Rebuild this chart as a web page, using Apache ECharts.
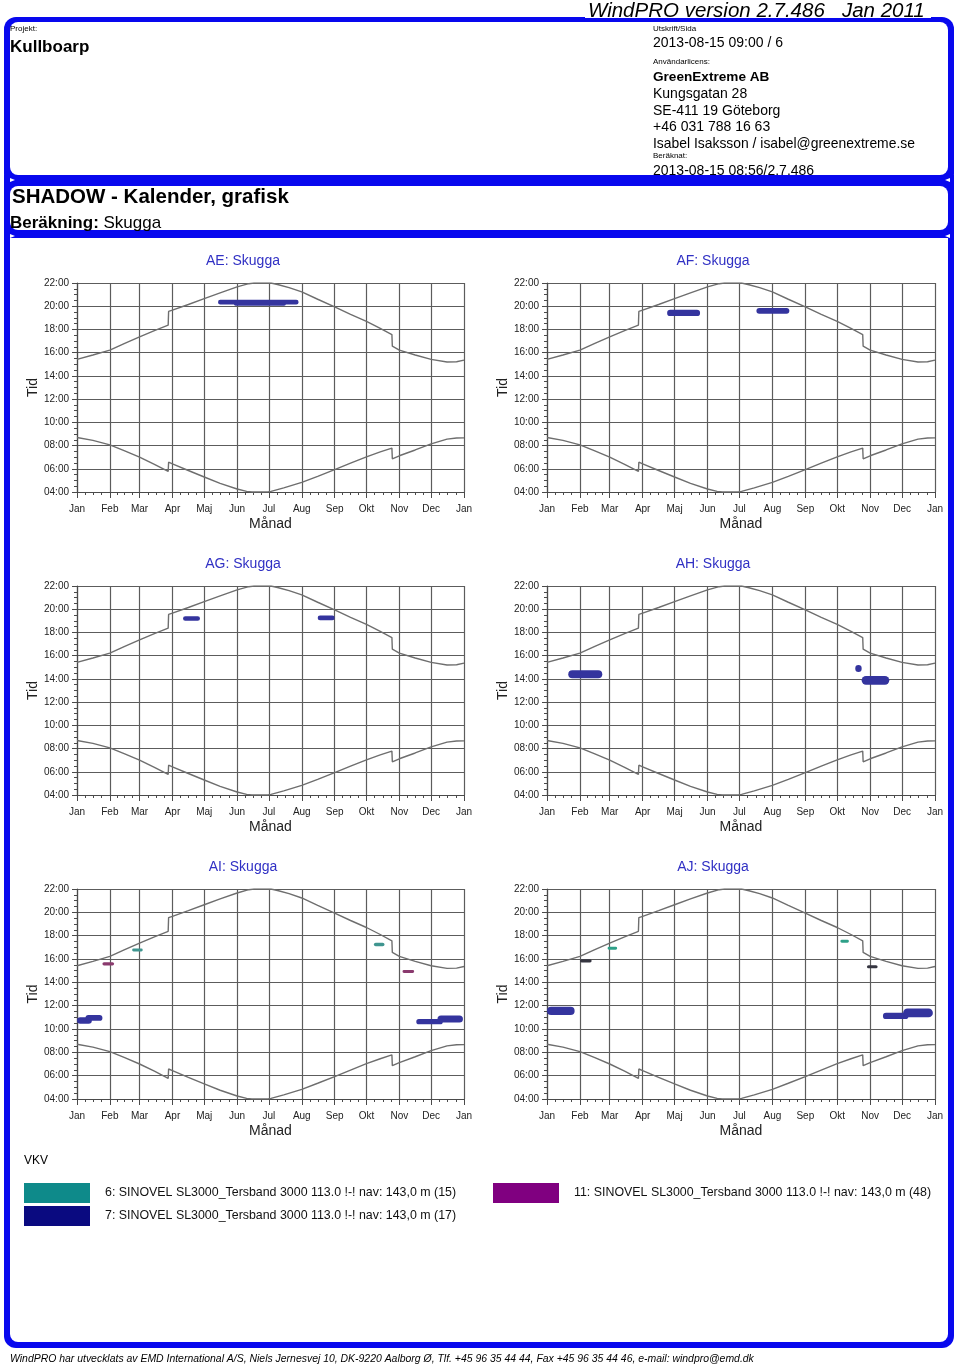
<!DOCTYPE html>
<html>
<head>
<meta charset="utf-8">
<script src="https://cdn.jsdelivr.net/npm/echarts@6/dist/echarts.min.js"></script>
<style>
html,body{margin:0;padding:0;background:#fff;}
#chart{width:960px;height:1366px;}
</style>
</head>
<body>
<div id="chart"></div>
<script>
// ---------- data ----------
const monthLabels = ['Jan','Feb','Mar','Apr','Maj','Jun','Jul','Aug','Sep','Okt','Nov','Dec','Jan'];
const monthStartDays = [0,31,59,90,120,151,181,212,243,273,304,334,365];
const hourMin = 4, hourMax = 22, hourStep = 2;

const panelTitles = ['AE: Skugga','AF: Skugga','AG: Skugga','AH: Skugga','AI: Skugga','AJ: Skugga'];

// sunset (upper curve) [dayOfYear, hour]
const sunsetCurve = [
  [0,15.42],[15,15.8],[31,16.22],[45,16.8],[59,17.36],[73,17.9],[86,18.37],[86.4,19.55],
  [90,19.66],[105,20.15],[120,20.65],[135,21.15],[151,21.66],[162,21.94],[167,22.0],
  [183,22.0],[190,21.85],[200,21.6],[212,21.23],[227,20.6],[243,19.94],[258,19.3],
  [273,18.7],[286,18.1],[297,17.56],[297.4,16.56],[304,16.22],[319,15.8],[334,15.42],
  [349,15.2],[358,15.22],[365,15.36]
];
// sunrise (lower curve) [dayOfYear, hour]
const sunriseCurve = [
  [0,8.69],[15,8.45],[31,8.06],[45,7.55],[59,7.0],[73,6.38],[86,5.77],[86.4,6.57],
  [90,6.43],[105,5.85],[120,5.29],[135,4.75],[151,4.26],[160,4.05],[165,4.0],
  [180,4.0],[183,4.05],[195,4.35],[212,4.83],[227,5.35],[243,5.92],[258,6.48],
  [273,7.03],[286,7.45],[297,7.78],[297.4,6.86],[304,7.12],[319,7.62],[334,8.15],
  [349,8.55],[358,8.65],[365,8.66]
];

const turbineNames = [
  '6: SINOVEL SL3000_Tersband 3000 113.0 !-! nav: 143,0 m (15)',
  '7: SINOVEL SL3000_Tersband 3000 113.0 !-! nav: 143,0 m (17)',
  '11: SINOVEL SL3000_Tersband 3000 113.0 !-! nav: 143,0 m (48)'
];

// shadow periods: [startDay, endDay, fromHour, toHour]
const aeTurbine7 = [[133,209,20.15,20.55],[148,197,20.05,20.35]];
const afTurbine7 = [[113,144,19.15,19.7],[197,228,19.35,19.85]];
const agTurbine7 = [[100,116,19.0,19.4],[227,243,19.05,19.45]];
const ahTurbine7 = [[20,52,14.05,14.75],[290,296,14.6,15.2],[296,322,13.5,14.25]];
const aiTurbine7 = [[0,14,10.45,11.0],[8,24,10.7,11.2],[320,345,10.4,10.85],[340,364,10.55,11.15]];
const aiTurbine6 = [[52,62,16.65,16.9],[280,290,17.1,17.4]];
const aiTurbine11 = [[24,35,15.45,15.72],[307,318,14.8,15.05]];
const ajTurbine7 = [[0,26,11.2,11.9],[316,340,10.85,11.4],[335,363,11.0,11.75]];
const ajTurbine6 = [[57,66,16.8,17.05],[276,284,17.4,17.65]];
const ajTurbine11 = [[31,42,15.7,15.98],[301,311,15.2,15.46]];

const panelShadows = [
  [[1, aeTurbine7]],
  [[1, afTurbine7]],
  [[1, agTurbine7]],
  [[1, ahTurbine7]],
  [[1, aiTurbine7],[0, aiTurbine6],[2, aiTurbine11]],
  [[1, ajTurbine7],[0, ajTurbine6],[2, ajTurbine11]]
];

// ---------- styling ----------
const FONT = 'Liberation Sans, Arial, Helvetica, sans-serif';
const BLUE = '#0808ee';
const legendColors = ['#0e8a8a','#0a0a80','#800080'];
const blobFillsDefault = ['#3f958f','#34349e','#8a3a6e'];
const blobFillsAJ = ['#2ea088','#34349e','#353540'];

const gridRects = [
  {left:77, top:283, width:387, height:209},
  {left:547, top:283, width:388, height:209},
  {left:77, top:586, width:387, height:209},
  {left:547, top:586, width:388, height:209},
  {left:77, top:889, width:387, height:210},
  {left:547, top:889, width:388, height:210}
];
const titlePos = [[243,262],[713,262],[243,565],[713,565],[243,868],[713,868]];

const minorDays = [];
for (let m = 0; m < 12; m++) {
  const a = monthStartDays[m], b = monthStartDays[m+1];
  for (let k = 1; k < 4; k++) minorDays.push(a + (b - a) * k / 4);
}

function hourLabel(v){ return (v < 10 ? '0' : '') + v + ':00'; }

function makeBlob(fill){
  return function(params, api){
    const p0 = api.coord([api.value(0), api.value(3)]);
    const p1 = api.coord([api.value(1), api.value(2)]);
    const h = p1[1] - p0[1];
    return {
      type:'rect',
      shape:{x:p0[0], y:p0[1], width:p1[0]-p0[0], height:h, r:h/2},
      style:{fill:fill}
    };
  };
}

const grids = [], xAxes = [], yAxes = [], series = [], titles = [];
const axisColor = '#4a4a4a';
const gridLine = {color:'#5c5c5c', width:1.2};
gridRects.forEach((g, i) => {
  grids.push(Object.assign({containLabel:false}, g));
  xAxes.push({
    type:'value', gridIndex:i, min:0, max:365, position:'bottom',
    axisLine:{show:true, onZero:false, lineStyle:{color:axisColor, width:1.2}},
    axisTick:{show:true, customValues:monthStartDays, length:6, lineStyle:{color:axisColor}},
    axisLabel:{customValues:monthStartDays, formatter:v => monthLabels[monthStartDays.indexOf(v)],
      color:'#222', fontSize:10, fontFamily:FONT, margin:12},
    splitLine:{show:true, lineStyle:gridLine},
    name:'Månad', nameLocation:'middle', nameGap:25,
    nameTextStyle:{fontSize:14, color:'#222', fontFamily:FONT}
  });
  xAxes.push({
    type:'value', gridIndex:i, min:0, max:365, position:'bottom',
    axisLine:{show:false},
    axisTick:{show:true, customValues:minorDays, length:3, lineStyle:{color:axisColor}},
    axisLabel:{show:false},
    splitLine:{show:false}
  });
  yAxes.push({
    type:'value', gridIndex:i, min:hourMin, max:hourMax, interval:hourStep,
    axisLine:{show:true, onZero:false, lineStyle:{color:axisColor, width:1.2}},
    axisTick:{show:true, length:5, lineStyle:{color:axisColor}},
    minorTick:{show:true, splitNumber:4, length:3, lineStyle:{color:axisColor}},
    axisLabel:{formatter:hourLabel, color:'#222', fontSize:10, fontFamily:FONT, margin:8},
    splitLine:{show:true, lineStyle:gridLine},
    name:'Tid', nameLocation:'middle', nameGap:37, nameRotate:90,
    nameTextStyle:{fontSize:14, color:'#222', fontFamily:FONT}
  });
  [sunsetCurve, sunriseCurve].forEach((curve, c) => {
    series.push({
      type:'line', name:(c ? 'Soluppgång' : 'Solnedgång'), xAxisIndex:2*i, yAxisIndex:i,
      data:curve, symbol:'none', silent:true, z:3,
      lineStyle:{color:'#6e6e6e', width:1.4}
    });
  });
  const fills = (i === 5) ? blobFillsAJ : blobFillsDefault;
  panelShadows[i].forEach(([t, blobs]) => {
    series.push({
      type:'custom', name:turbineNames[t], xAxisIndex:2*i, yAxisIndex:i,
      data:blobs, renderItem:makeBlob(fills[t]), encode:{x:[0,1], y:[2,3]},
      itemStyle:{color:legendColors[t]}, z:5, silent:true
    });
  });
  titles.push({
    text:panelTitles[i], left:titlePos[i][0], top:titlePos[i][1]-8, textAlign:'center', padding:0,
    textStyle:{fontSize:14, fontWeight:'normal', color:'#3030c4', fontFamily:FONT}
  });
});

// ---------- page frame & header (graphic) ----------
function txt(x, y, text, size, extra){
  return {
    type:'text', x:x, y:y, z:-1,
    style:Object.assign({text:text, fontSize:size, fontFamily:FONT, fill:'#000',
      align:'left', verticalAlign:'middle'}, extra || {})
  };
}
function tri(points){ return {type:'polygon', z:1, shape:{points:points}, style:{fill:'#fff'}}; }

const graphic = [
  {type:'rect', z:-3, shape:{x:4, y:17, width:950, height:169, r:12}, style:{fill:BLUE}},
  {type:'rect', z:-2, shape:{x:10, y:22, width:938, height:153, r:8}, style:{fill:'#fff'}},
  {type:'rect', z:-3, shape:{x:4, y:176, width:950, height:62}, style:{fill:BLUE}},
  {type:'rect', z:-2, shape:{x:10, y:186, width:938, height:44, r:8}, style:{fill:'#fff'}},
  {type:'rect', z:-3, shape:{x:4, y:230, width:950, height:1118, r:[0,0,12,12]}, style:{fill:BLUE}},
  {type:'rect', z:-2, shape:{x:10, y:238, width:938, height:1104, r:[0,0,8,8]}, style:{fill:'#fff'}},
  {type:'rect', z:-2, shape:{x:585, y:0, width:346, height:18}, style:{fill:'#fff'}},
  txt(588, 11, 'WindPRO version 2.7.486   Jan 2011', 20.5, {fontStyle:'italic'}),
  txt(10, 29, 'Projekt:', 8),
  txt(10, 47, 'Kullboarp', 17, {fontWeight:'bold'}),
  txt(653, 29, 'Utskrift/Sida', 8),
  txt(653, 43.5, '2013-08-15 09:00 / 6', 14),
  txt(653, 62, 'Användarlicens:', 8),
  txt(653, 77, 'GreenExtreme AB', 13.6, {fontWeight:'bold'}),
  txt(653, 94, 'Kungsgatan 28', 14),
  txt(653, 111, 'SE-411 19 Göteborg', 14),
  txt(653, 127.5, '+46 031 788 16 63', 14),
  txt(653, 144, 'Isabel Isaksson / isabel@greenextreme.se', 13.9),
  txt(653, 155.5, 'Beräknat:', 8),
  txt(653, 171, '2013-08-15 08:56/2.7.486', 14),
  {type:'rect', z:0, shape:{x:4, y:175, width:950, height:11}, style:{fill:BLUE}},
  tri([[10,178],[15,180],[10,182]]), tri([[10,234],[15,236],[10,238]]),
  tri([[950,178],[945,180],[950,182]]), tri([[950,234],[945,236],[950,238]]),
  txt(12, 197, 'SHADOW - Kalender, grafisk', 20.5, {fontWeight:'bold'}),
  txt(10, 223, '{b|Beräkning:} Skugga', 17, {rich:{b:{fontWeight:'bold', fontSize:17, fontFamily:FONT}}}),
  txt(24, 1161, 'VKV', 12),
  txt(10, 1359, 'WindPRO har utvecklats av EMD International A/S, Niels Jernesvej 10, DK-9220 Aalborg Ø, Tlf. +45 96 35 44 44, Fax +45 96 35 44 46, e-mail: windpro@emd.dk', 10.45, {fontStyle:'italic'})
];

function legendFor(t, left, top){
  return {
    data:[turbineNames[t]], left:left, top:top, orient:'horizontal', padding:0,
    itemWidth:66, itemHeight:20, icon:'rect', selectedMode:false,
    textStyle:{fontSize:12.4, color:'#111', fontFamily:FONT, padding:[0,0,0,10]}
  };
}

const option = {
  animation:false,
  backgroundColor:'#fff',
  title:titles,
  grid:grids,
  xAxis:xAxes,
  yAxis:yAxes,
  series:series,
  legend:[legendFor(0,24,1183), legendFor(1,24,1206), legendFor(2,493,1183)],
  graphic:graphic
};

const chart = echarts.init(document.getElementById('chart'), null, {renderer:'canvas'});
chart.setOption(option);
</script>
</body>
</html>
